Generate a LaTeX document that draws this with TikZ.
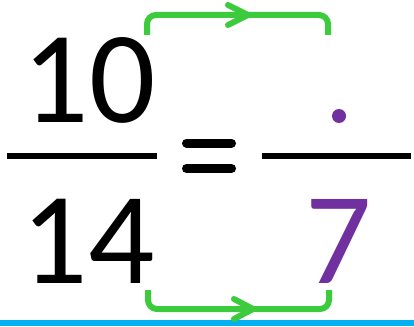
\documentclass[tikz,border=0pt]{standalone}
\usepackage{fontspec}
\setmainfont{Carlito}
\definecolor{brgreen}{HTML}{3CCB3C}
\definecolor{digpurple}{HTML}{7030A0}
\definecolor{bandblue}{HTML}{00B0F0}
\begin{document}
\begin{tikzpicture}[x=1pt,y=-1pt,
  digit/.style={inner sep=0pt,outer sep=0pt,anchor=base,font=\fontsize{131}{131}\selectfont},
  fracbar/.style={line width=6pt},
  eqbar/.style={line width=9pt,line cap=round},
  bracket/.style={brgreen,line width=6pt,rounded corners=9pt},
  chevron/.style={brgreen,line width=6pt,line cap=round,line join=round}]
\useasboundingbox (0,0) rectangle (414,326);
% band
\fill[bandblue] (0,319.5) rectangle (414,326);
% digits
\node[digit] (n10) at (89,122) {10};
\node[digit] (n14) at (88,283) {14};
\node[digit,text=digpurple] (n7) at (339,283) {7};
\fill[digpurple] (339,116) circle (7);
% fraction bars
\draw[fracbar] (7,156) -- (157,156);
\draw[fracbar] (262,156) -- (411,156);
% equals
\draw[eqbar] (186.5,143) -- (231.5,143);
\draw[eqbar] (186.5,168.5) -- (231.5,168.5);
% top bracket
\coordinate (tl) at (147,35);
\coordinate (tr) at (328,35);
\draw[bracket] (tl) -- (147,15) -- (328,15) -- (tr);
\draw[chevron] (228,5) -- (248,15) -- (228,25);
% bottom bracket
\coordinate (bl) at (148,290);
\coordinate (br) at (329,290);
\draw[bracket] (bl) -- (148,309) -- (329,309) -- (br);
\draw[chevron] (234,299) -- (253,309) -- (234,319);
\end{tikzpicture}
\end{document}
